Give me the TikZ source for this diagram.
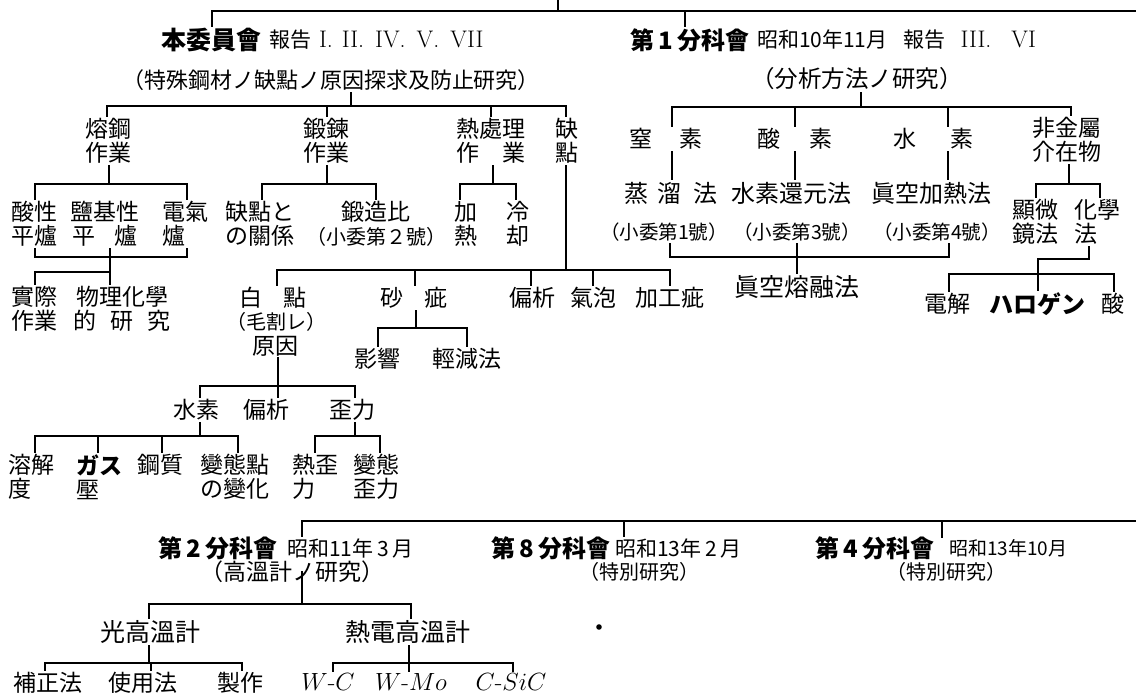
\documentclass[tikz,border=0pt]{standalone}
\usepackage{fontspec}
\newfontfamily\cjkfont{Noto Sans CJK JP}
\newcommand\myfs[2]{\fontsize{#1}{#2}\selectfont}
\begin{document}
\begin{tikzpicture}[x=1pt,y=-1pt,
  ln/.style={line width=1.1pt,line cap=rect},
  tx/.style={inner sep=0pt,outer sep=2pt,align=center,font=\cjkfont\myfs{23}{24}},
  bigb/.style={tx,font=\cjkfont\myfs{24}{24}\bfseries},
  sm/.style={tx,font=\cjkfont\myfs{#1}{#1}},
  lat/.style={inner sep=0pt,outer sep=2pt,font=\rmfamily\myfs{25}{25}}]
\fill[white] (0,0) rectangle (1136,695);
\useasboundingbox (0,0) rectangle (1136,695);

% ---------- titles ----------
\node[tx,font=\cjkfont\myfs{25}{25}\bfseries] (hon) at (211,40) {本委員會};
\node[sm=21,anchor=west] (honr) at (267,40) {報告\hspace{8pt}{\rmfamily\myfs{24}{24}I.\hspace{9pt}II.\hspace{11pt}IV.\hspace{11pt}V.\hspace{11pt}VII}};
\node[bigb] (dai1) at (690,40) {第\,1\,分科會};
\node[sm=21,anchor=west] (dai1r) at (755,40) {昭和10年11月\hspace{16pt}報告\hspace{15pt}{\rmfamily\myfs{24}{24}III.\hspace{20pt}VI}};
\node[sm=22] (tok) at (331,80) {（特殊鋼材ノ缺點ノ原因探求及防止研究）};
\node[sm=23.5] (bun) at (857,79) {（分析方法ノ研究）};

\coordinate (top0) at (558,0);
\coordinate (topL) at (212,11);
\coordinate (topR) at (1136,11);
\draw[ln] (top0) -- (558,11);
\draw[ln] (topL) -- (topR);
\draw[ln] (topL) -- (212,0 |- hon.north);
\draw[ln] (685,11) -- (685,0 |- dai1.north);

% ---------- main committee ----------
\node[tx] (yoko) at (108,141) {熔鋼\\作業};
\node[tx] (tanren) at (326,141) {鍛鍊\\作業};
\node[tx] (netsu) at (491,141) {熱處理\\作\hspace{24pt}業};
\node[tx] (ketten) at (567,141) {缺\\點};
\draw[ln] (351,0 |- tok.south) -- (351,106);
\draw[ln] (107,106) -- (566,106);
\draw[ln] (107,106) -- (107,0 |- yoko.north);
\draw[ln] (327,106) -- (327,0 |- tanren.north);
\draw[ln] (491,106) -- (491,0 |- netsu.north);
\draw[ln] (566,106) -- (566,0 |- ketten.north);

% furnaces
\node[tx] (sansei) at (35,224) {酸性\\平爐};
\node[tx] (enki) at (105,224) {鹽基性\\平\hspace{20pt}爐};
\node[tx,align=left] (denki) at (185,224) {電氣\\爐};
\draw[ln] (109,0 |- yoko.south) -- (109,184);
\draw[ln] (35,184) -- (187,184);
\draw[ln] (35,184) -- (35,0 |- sansei.north);
\draw[ln] (187,184) -- (187,0 |- denki.north);
\draw[ln] (35,0 |- sansei.south) -- (35,257);
\draw[ln] (187,0 |- denki.south) -- (187,257);
\draw[ln] (110,0 |- enki.south) -- (110,272);
\draw[ln] (35,257) -- (187,257);
\draw[ln] (35,272) -- (110,272);
\node[tx] (jissai) at (35,309) {實際\\作業};
\node[tx] (butsuri) at (122,309) {物理化學\\的\hspace{14pt}研\hspace{14pt}究};
\draw[ln] (35,272) -- (35,0 |- jissai.north);
\draw[ln] (110,272) -- (110,0 |- butsuri.north);

% forging
\node[tx] (kankei) at (260,224) {缺點と\\の關係};
\node[tx] (tanzo) at (376,224) {鍛造比\\{\myfs{20}{24}（小委第２號）}};
\draw[ln] (327,0 |- tanren.south) -- (327,184);
\draw[ln] (262,184) -- (376,184);
\draw[ln] (262,184) -- (262,0 |- kankei.north);
\draw[ln] (376,184) -- (376,0 |- tanzo.north);

% heat treatment
\node[tx] (kanetsu) at (466,224) {加\\熱};
\node[tx] (reikyaku) at (518,224) {冷\\却};
\draw[ln] (493,0 |- netsu.south) -- (493,184);
\draw[ln] (460,184) -- (516,184);
\draw[ln] (460,184) -- (460,0 |- kanetsu.north);
\draw[ln] (516,184) -- (516,0 |- reikyaku.north);

% defects
\node[tx] (hakuten) at (273,298) {白\hspace{21pt}點};
\node[tx] (sashi) at (414,298) {砂\hspace{22pt}疵};
\node[tx] (henseki) at (532,298) {偏析};
\node[tx] (kihou) at (593,298) {氣泡};
\node[tx] (kakou) at (670,298) {加工疵};
\draw[ln] (566,0 |- ketten.south) -- (566,270);
\draw[ln] (277,270) -- (670,270);
\draw[ln] (277,270) -- (277,0 |- hakuten.north);
\draw[ln] (415,270) -- (415,0 |- sashi.north);
\draw[ln] (531,270) -- (531,0 |- henseki.north);
\draw[ln] (593,270) -- (593,0 |- kihou.north);
\draw[ln] (670,270) -- (670,0 |- kakou.north);

\node[sm=20] (kewari) at (276,322) {（毛割レ）};
\node[tx] (genin) at (275,346) {原因};
\node[tx] (eikyou) at (377,359) {影響};
\node[tx] (keigen) at (467,359) {輕減法};
\draw[ln] (416,0 |- sashi.south) -- (416,328);
\draw[ln] (378,328) -- (467,328);
\draw[ln] (378,328) -- (378,0 |- eikyou.north);
\draw[ln] (467,328) -- (467,0 |- keigen.north);

\node[tx] (suiso2) at (196,410) {水素};
\node[tx] (henseki2) at (266,410) {偏析};
\node[tx] (waiki) at (352,410) {歪力};
\draw[ln] (278,0 |- genin.south) -- (278,386);
\draw[ln] (200,386) -- (355,386);
\draw[ln] (200,386) -- (200,0 |- suiso2.north);
\draw[ln] (278,386) -- (278,0 |- henseki2.north);
\draw[ln] (355,386) -- (355,0 |- waiki.north);

\node[tx,align=left] (youkai) at (32,477) {溶解\\度};
\node[tx,align=left] (gas) at (99,477) {{\bfseries ガス}\\壓};
\node[tx] (koushitsu) at (160,465) {鋼質};
\node[tx] (hentai) at (235,477) {變態點\\の變化};
\node[tx,align=left] (netsuwai) at (315,477) {熱歪\\力};
\node[tx] (hentaiwai) at (376,477) {變態\\歪力};
\draw[ln] (200,0 |- suiso2.south) -- (200,436);
\draw[ln] (35,436) -- (238,436);
\draw[ln] (35,436) -- (35,0 |- youkai.north);
\draw[ln] (98,436) -- (98,0 |- gas.north);
\draw[ln] (162,436) -- (162,0 |- koushitsu.north);
\draw[ln] (238,436) -- (238,0 |- hentai.north);
\draw[ln] (355,0 |- waiki.south) -- (355,436);
\draw[ln] (315,436) -- (380,436);
\draw[ln] (315,436) -- (315,0 |- netsuwai.north);
\draw[ln] (380,436) -- (380,0 |- hentaiwai.north);

% ---------- subcommittee 1 ----------
\node[tx] (chisso) at (666,139) {窒\hspace{27pt}素};
\node[tx] (sanso) at (795,139) {酸\hspace{30pt}素};
\node[tx] (suiso) at (933,139) {水\hspace{34pt}素};
\node[tx] (hikin) at (1067,140) {非金屬\\介在物};
\draw[ln] (861,0 |- bun.south) -- (861,107);
\draw[ln] (672,107) -- (1071,107);
\draw[ln] (672,107) -- (672,0 |- chisso.north);
\draw[ln] (795,107) -- (795,0 |- sanso.north);
\draw[ln] (948,107) -- (948,0 |- suiso.north);
\draw[ln] (1071,107) -- (1071,0 |- hikin.north);

\node[sm=24] (joryu) at (671,193) {蒸\hspace{10pt}溜\hspace{12pt}法};
\node[sm=24] (kangen) at (791,193) {水素還元法};
\node[sm=24] (kanetsu2) at (931,193) {眞空加熱法};
\draw[ln] (672,0 |- chisso.south) -- (672,0 |- joryu.north);
\draw[ln] (795,0 |- sanso.south) -- (795,0 |- kangen.north);
\draw[ln] (948,0 |- suiso.south) -- (948,0 |- kanetsu2.north);

\node[sm=19.5] (sho1) at (664,232) {（小委第1號）};
\node[sm=19.5] (sho3) at (797,232) {（小委第3號）};
\node[sm=19.5] (sho4) at (937,232) {（小委第4號）};
\node[sm=25] (yuuyu) at (797,287) {眞空熔融法};
\draw[ln] (670,0 |- sho1.south) -- (670,257);
\draw[ln] (797,0 |- sho3.south) -- (797,257);
\draw[ln] (949,0 |- sho4.south) -- (949,257);
\draw[ln] (670,257) -- (949,257);
\draw[ln] (797,257) -- (797,0 |- yuuyu.north);

\node[tx] (kenbi) at (1035,222) {顯微\\鏡法};
\node[tx,align=left] (kagaku) at (1097,222) {化學\\法};
\draw[ln] (1069,0 |- hikin.south) -- (1069,184);
\draw[ln] (1036,184) -- (1100,184);
\draw[ln] (1036,184) -- (1036,0 |- kenbi.north);
\draw[ln] (1100,184) -- (1100,0 |- kagaku.north);

\node[tx] (denkai) at (947,304) {電解};
\node[tx,font=\cjkfont\myfs{24}{24}\bfseries] (halo) at (1037,304) {ハロゲン};
\node[tx] (san) at (1113,304) {酸};
\draw[ln] (1089,0 |- kagaku.south) -- (1089,259) -- (1038,259) -- (1038,274);
\draw[ln] (949,274) -- (1114,274);
\draw[ln] (949,274) -- (949,0 |- denkai.north);
\draw[ln] (1038,274) -- (1038,0 |- halo.north);
\draw[ln] (1114,274) -- (1114,0 |- san.north);

% ---------- lower subcommittees ----------
\node[bigb] (dai2) at (218,548) {第\,2\,分科會};
\node[sm=21,anchor=west] (dai2r) at (285,548) {昭和11年\hspace{4pt}3\hspace{4pt}月};
\node[sm=23] (kouon) at (292,572) {（高溫計ノ研究）};
\node[bigb] (dai8) at (551,548) {第\,8\,分科會};
\node[sm=21,anchor=west] (dai8r) at (613,548) {昭和13年\hspace{4pt}2\hspace{4pt}月};
\node[sm=20] (toku1) at (639,572) {（特別研究）};
\node[bigb] (dai4) at (875,548) {第\,4\,分科會};
\node[sm=19,anchor=west] (dai4r) at (947,548) {昭和13年10月};
\node[sm=20] (toku2) at (946,572) {（特別研究）};

\coordinate (botR) at (1136,521);
\draw[ln] (302,521) -- (botR);
\draw[ln] (302,521) -- (302,0 |- dai2r.north);
\draw[ln] (624,521) -- (624,0 |- dai8r.north);
\draw[ln] (942,521) -- (942,0 |- dai4r.north);
\draw[ln] (302,0 |- kouon.center) -- (302,604);

\node[sm=25] (hikari) at (150,632) {光高溫計};
\node[sm=25] (netsuden) at (408,632) {熱電高溫計};
\draw[ln] (149,604) -- (411,604);
\draw[ln] (149,604) -- (149,0 |- hikari.north);
\draw[ln] (411,604) -- (411,0 |- netsuden.north);

\node[tx] (hosei) at (48,683) {補正法};
\node[tx] (shiyou) at (143,683) {使用法};
\node[tx] (seisaku) at (240,683) {製作};
\draw[ln] (149,0 |- hikari.south) -- (149,663);
\draw[ln] (45,663) -- (242,663);
\draw[ln] (45,663) -- (45,0 |- hosei.north);
\draw[ln] (151,663) -- (151,0 |- shiyou.north);
\draw[ln] (242,663) -- (242,0 |- seisaku.north);

\node[lat] (wc) at (328,682) {$W$-$C$};
\node[lat] (wmo) at (411,682) {$W$-$Mo$};
\node[lat] (csic) at (511,682) {$C$-$SiC$};
\draw[ln] (409,0 |- netsuden.south) -- (409,663);
\draw[ln] (333,663) -- (513,663);
\draw[ln] (333,663) -- (333,0 |- wc.north);
\draw[ln] (409,663) -- (409,0 |- wmo.north);
\draw[ln] (513,663) -- (513,0 |- csic.north);

\fill (599,627) circle (2.8pt);
\end{tikzpicture}
\end{document}
